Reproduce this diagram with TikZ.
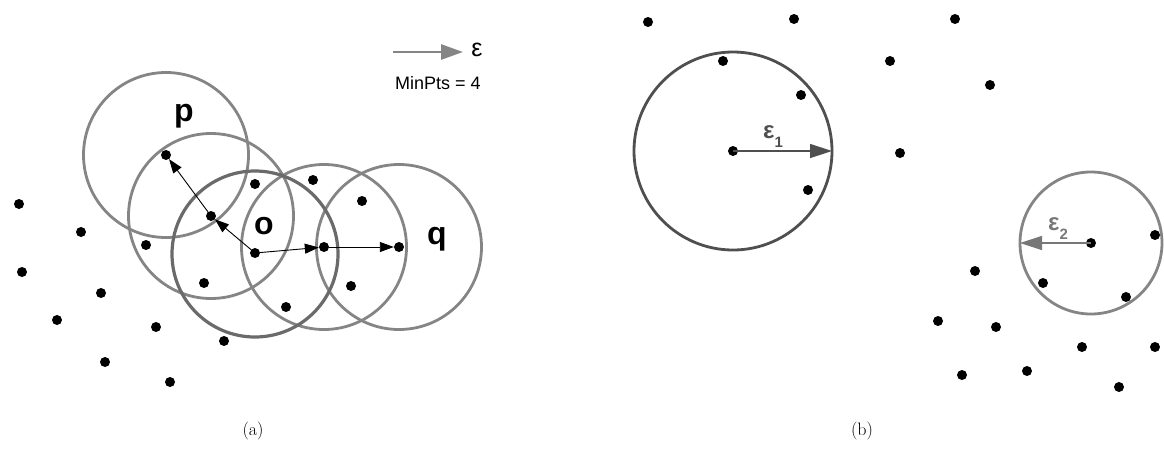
\documentclass[tikz,border=0pt]{standalone}
\usepackage{fontspec}
\newfontfamily\arial{Liberation Sans}
\usetikzlibrary{arrows.meta}
\definecolor{cgray}{HTML}{858585}
\definecolor{cdark}{HTML}{6A6A6A}
\definecolor{cdark2}{HTML}{4F4F4F}
\definecolor{cmid}{HTML}{777777}
\tikzset{
  dot/.style={circle,fill=black,inner sep=0pt,minimum size=10pt},
  ring/.style={draw=cgray,line width=2.8pt},
  ringo/.style={draw=cdark,line width=3.2pt},
  arr/.style={-{Triangle[length=14pt,width=10pt]},line width=0.9pt},
  garr/.style={line width=1.4pt,-{Triangle[length=22pt,width=14pt]}},
  lbl/.style={font=\arial\bfseries\fontsize{32}{34}\selectfont,inner sep=0pt,anchor=base},
  elbl/.style={font=\arial\bfseries\fontsize{24}{26}\selectfont,inner sep=0pt,anchor=base west},
  captxt/.style={font=\fontsize{18}{20}\selectfont,inner sep=0pt},
}
\begin{document}
\begin{tikzpicture}[x=1pt,y=-1pt]
\useasboundingbox (0,0) rectangle (1164,453);
% ---------- (a) ----------
\draw[ring] (166,155) circle[radius=82.5pt];
\draw[ring] (211,216) circle[radius=82.5pt];
\draw[ring] (324,247) circle[radius=82.5pt];
\draw[ring] (399,247) circle[radius=82.5pt];
\draw[ringo] (255,254) circle[radius=83pt];
\foreach \n/\x/\y in {a1/19/204,a2/81/232,a3/22/272,a4/101/293,a5/57/320,a6/156/327,a7/105/362,a8/170/382,a9/224/341,a10/146/245,a11/204/283,a12/255/184,a13/313/180,a14/362/201,a15/351/286,a16/286/307}
  \node[dot] (\n) at (\x,\y) {};
\node[dot] (p) at (166,155) {};
\node[dot] (m) at (211,216) {};
\node[dot] (o) at (255,253) {};
\node[dot] (r) at (324,247) {};
\node[dot] (q) at (399,247) {};
\draw[arr] (o) -- (m);
\draw[arr] (m) -- (p);
\draw[arr] (o) -- (r);
\draw[arr] (r) -- (q);
\node[lbl] (pl) at (184,121) {p};
\node[lbl] (ol) at (264,234) {o};
\node[lbl] (ql) at (437,244) {q};
% legend
\coordinate (l0) at (393,52);
\node[font=\arial\fontsize{25}{27}\selectfont,inner sep=0pt] (eps) at (477,50) {ε};
\draw[draw=cgray,line width=2.8pt,-{Triangle[length=22pt,width=15pt]},color=cgray] (l0) -- (463,52);
\node[font=\arial\fontsize{18}{20}\selectfont,inner sep=0pt] (mp) at (438,83) {MinPts = 4};
\node[captxt] (ca) at (253,431) {(a)};
% ---------- (b) ----------
\draw[draw=cdark2,line width=2.8pt] (733,151) circle[radius=99pt];
\draw[draw=cgray,line width=2.8pt] (1091,243) circle[radius=71pt];
\foreach \n/\x/\y in {b1/648/22,b2/794/19,b3/955/19,b4/723/61,b5/890/61,b6/801/95,b7/990/85,b8/900/153,b9/808/190,b10/1155/235,b11/975/271,b12/1043/283,b13/1126/297,b14/938/321,b15/996/327,b16/1082/347,b17/1155/347,b18/962/375,b19/1027/371,b20/1119/387}
  \node[dot] (\n) at (\x,\y) {};
\node[dot] (c1) at (733,151) {};
\node[dot] (c2) at (1091,243) {};
\coordinate (e1) at (832,151);
\coordinate (e2) at (1020,243);
\draw[garr,draw=cdark2,color=cdark2] (c1.center) -- (e1);
\draw[garr,draw=cmid,color=cmid] (c2.center) -- (e2);
\node[elbl,text=cdark2] (l1) at (763,138) {ε\raisebox{-9pt}{\fontsize{15}{17}\selectfont 1}};
\node[elbl,text=cmid] (l2) at (1048,230) {ε\raisebox{-9pt}{\fontsize{15}{17}\selectfont 2}};
\node[captxt] (cb) at (862,431) {(b)};
\end{tikzpicture}
\end{document}
